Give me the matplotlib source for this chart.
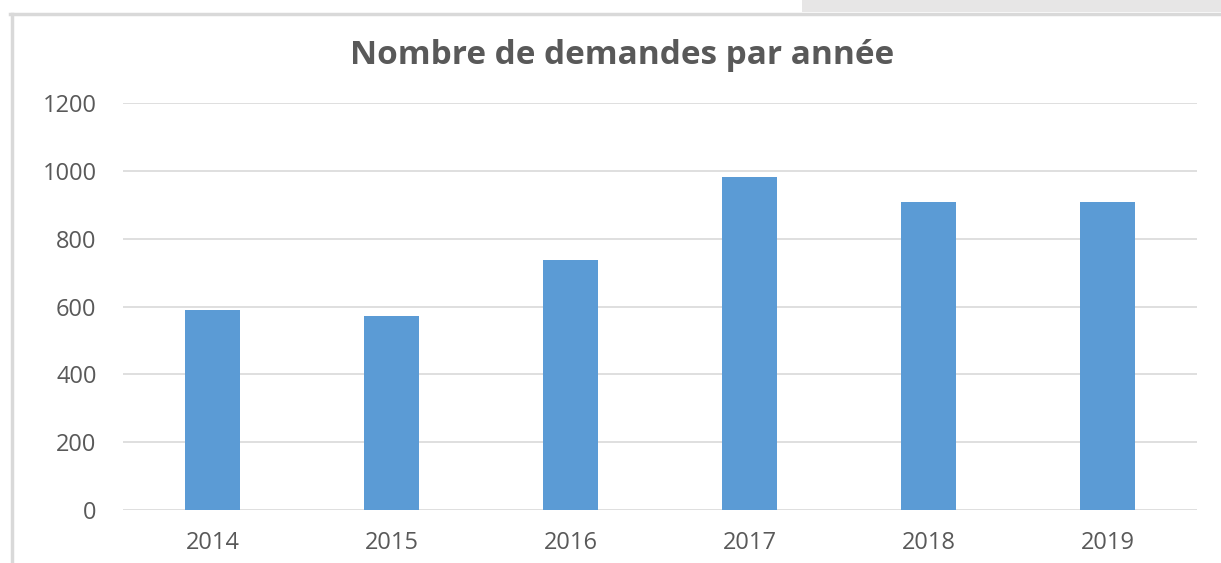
import matplotlib.pyplot as plt
from matplotlib.patches import Rectangle
from matplotlib.lines import Line2D

# Données
annees = ["2014", "2015", "2016", "2017", "2018", "2019"]
demandes = [590, 573, 737, 981, 907, 907]
graduations_y = [0, 200, 400, 600, 800, 1000, 1200]

W, H = 1221, 563
fig = plt.figure(figsize=(W / 100, H / 100), dpi=100)
fig.patch.set_facecolor("white")

def fx(px):
    return px / W

def fy(py):
    return 1 - py / H

# Cadre du graphique (bordures grises) et bandeau en haut à droite
fig.add_artist(Rectangle((fx(802), fy(12)), fx(W - 802), 12 / H,
                         transform=fig.transFigure, facecolor="#e7e6e6",
                         edgecolor="none", zorder=0))
fig.add_artist(Line2D([fx(10), fx(W)], [fy(14), fy(14)],
                      transform=fig.transFigure, color="#d9d9d9", lw=2.5))
fig.add_artist(Line2D([fx(12), fx(12)], [fy(14), fy(H)],
                      transform=fig.transFigure, color="#d9d9d9", lw=2.5))

ax = fig.add_axes([fx(123), fy(510), fx(1197 - 123), (510 - 103) / H])
x = range(len(annees))
ax.bar(x, demandes, width=0.31, color="#5b9bd5", zorder=2)

ax.set_xlim(-0.5, len(annees) - 0.5)
ax.set_ylim(0, 1200)
ax.set_yticks(graduations_y)
ax.set_xticks(list(x))
ax.set_xticklabels(annees)

ax.grid(axis="y", color="#d9d9d9", lw=1.2, zorder=0)
ax.set_axisbelow(True)
for s in ax.spines.values():
    s.set_visible(False)
ax.tick_params(length=0, labelsize=17, colors="#595959")
ax.tick_params(axis="y", pad=19)
ax.tick_params(axis="x", pad=15)
for lab in ax.get_xticklabels() + ax.get_yticklabels():
    lab.set_family("Open Sans")

fig.text(fx(622), fy(55), "Nombre de demandes par année", ha="center",
         va="center", fontsize=24, fontweight="bold", color="#595959",
         family="Open Sans")

fig.savefig("out.png", dpi=100)
